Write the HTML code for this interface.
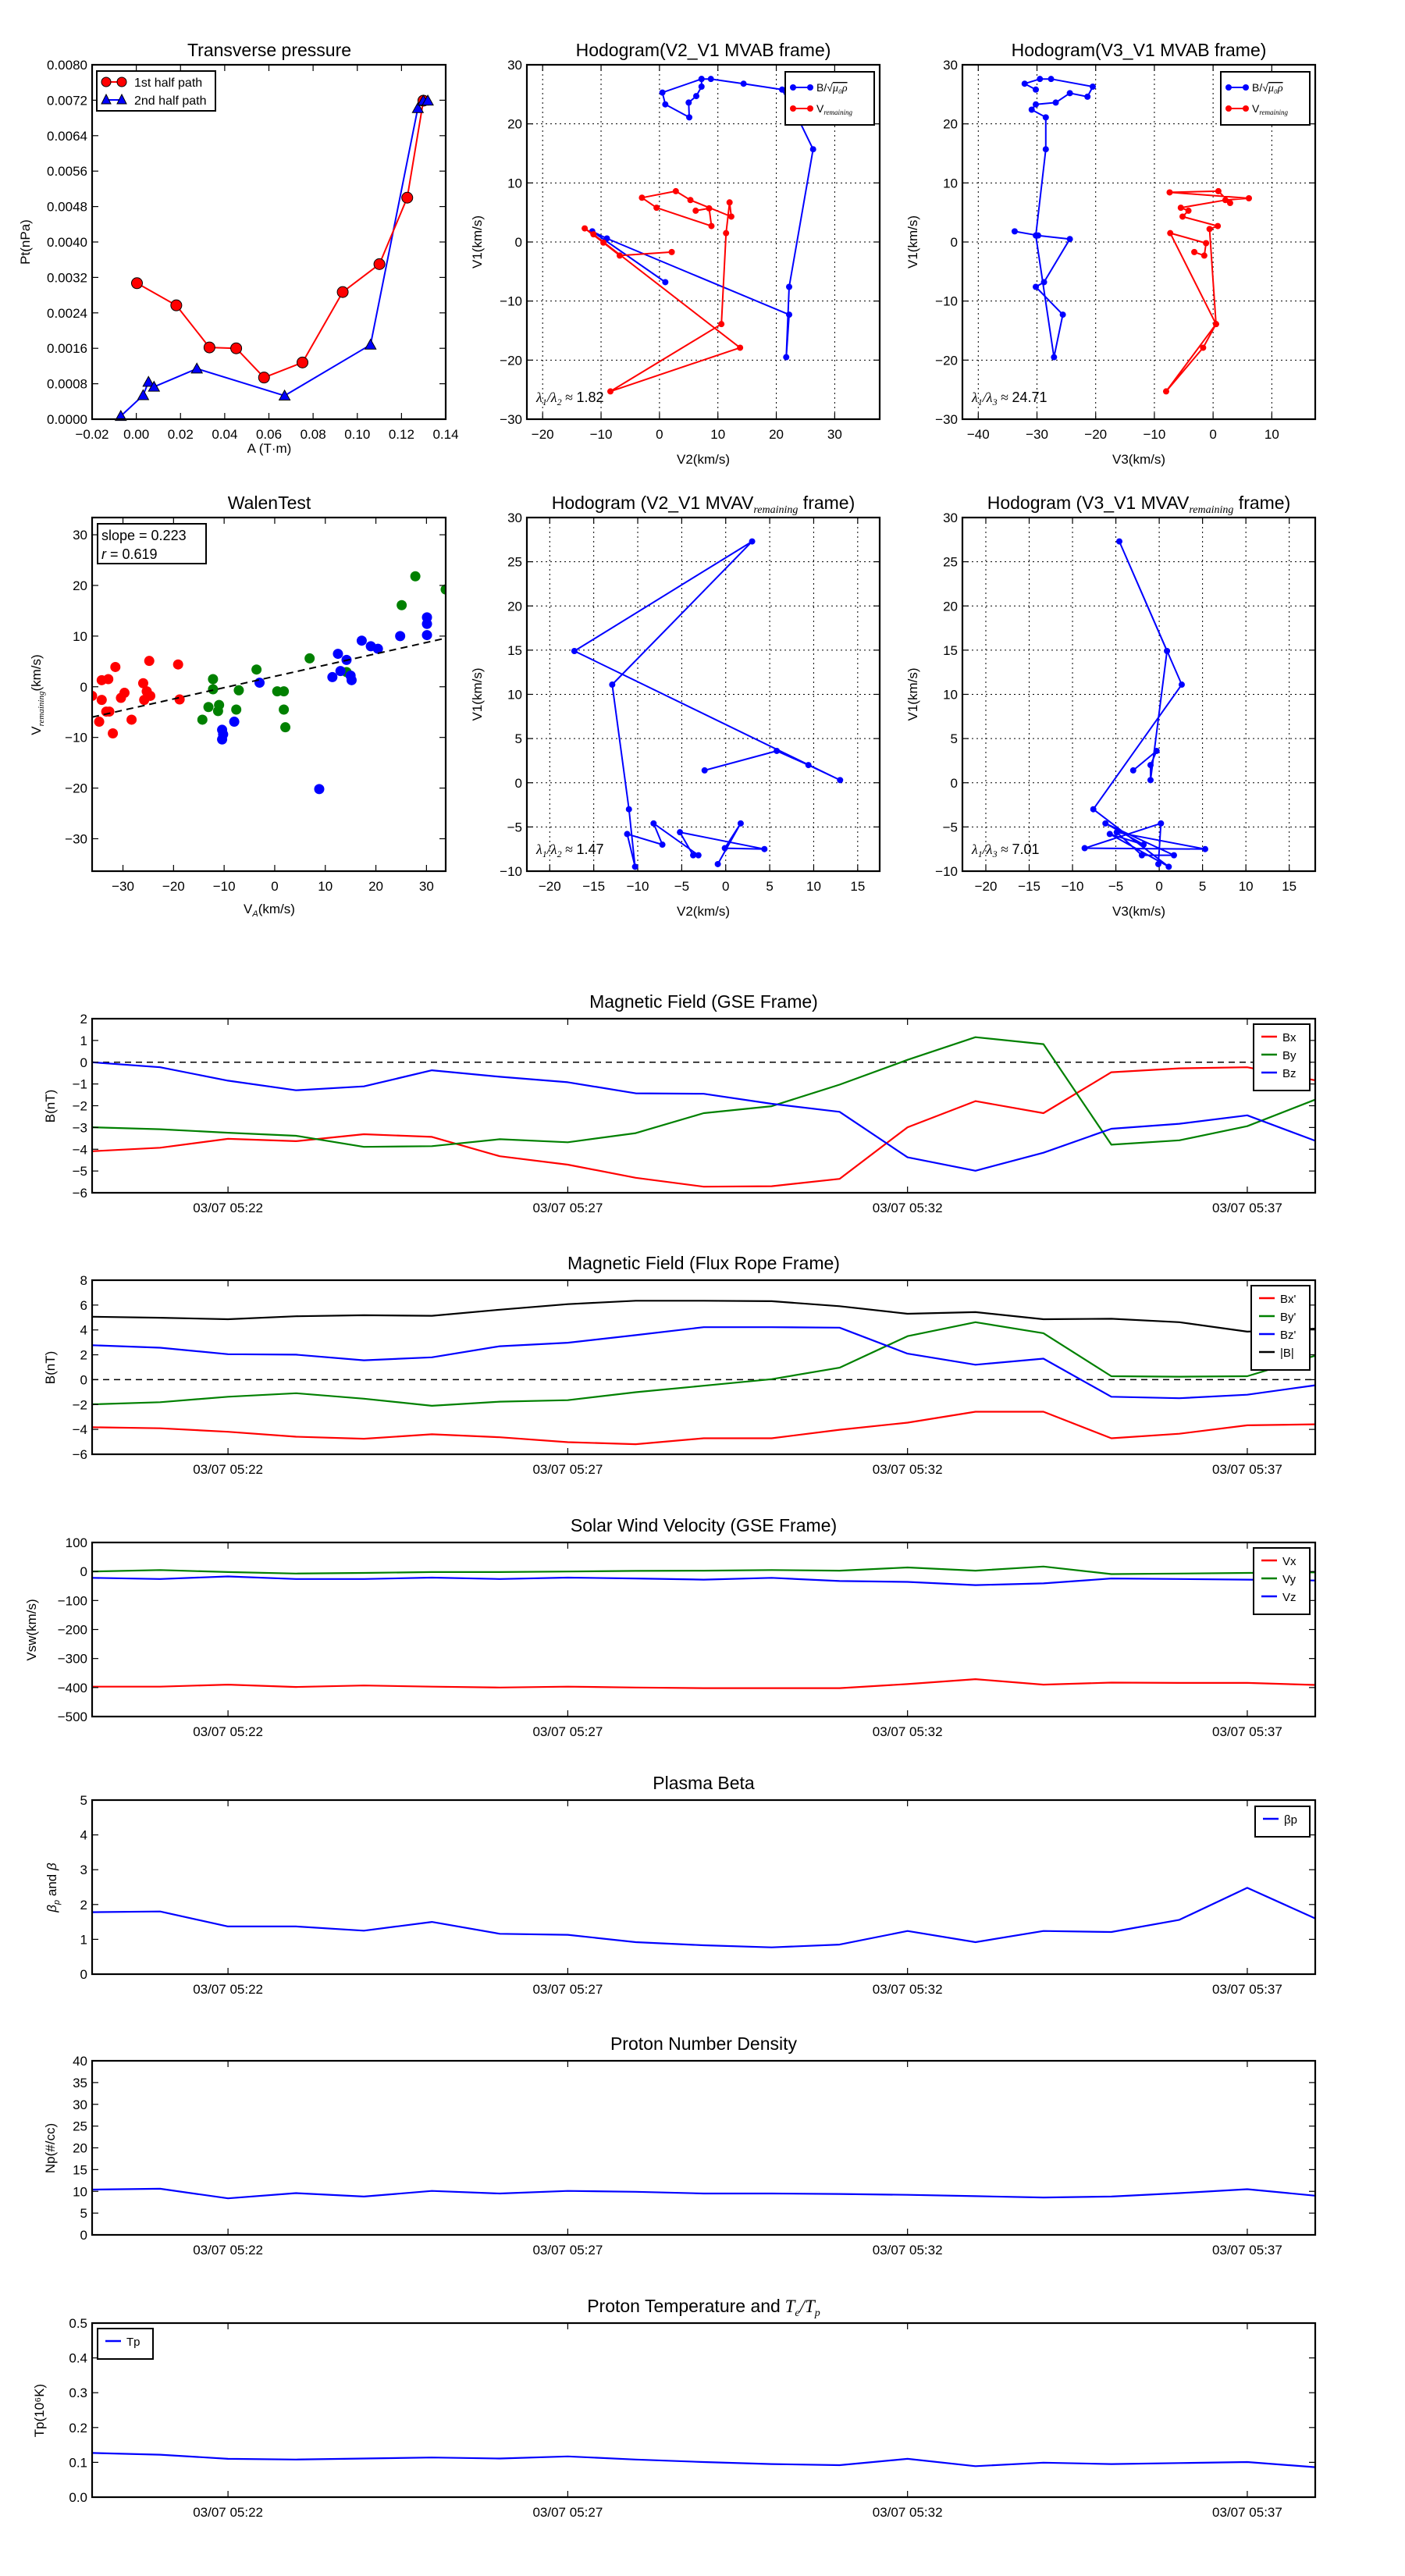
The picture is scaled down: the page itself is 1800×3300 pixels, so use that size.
<!DOCTYPE html>
<html><head><meta charset="utf-8">
<style>
html,body{margin:0;padding:0;background:#fff;}
svg{display:block;font-family:"Liberation Sans",sans-serif;}
</style></head>
<body>
<svg id="fig" width="1800" height="3300" viewBox="0 0 1800 3300" xmlns="http://www.w3.org/2000/svg"></svg>
<script>
// ---------- DATA ----------
const tpRedA=[0.0003,0.0181,0.0331,0.0452,0.0578,0.0752,0.0934,0.110,0.1226,0.1299];
const tpRedP=[0.00307,0.00257,0.00162,0.0016,0.00094,0.00128,0.00287,0.0035,0.0050,0.00719];
const tpBlueA=[-0.007,0.0031,0.0055,0.008,0.0274,0.0671,0.106,0.1274,0.1299,0.1319];
const tpBlueP=[0.00007,0.00054,0.00084,0.00073,0.00114,0.00053,0.00168,0.00702,0.00719,0.00719];
const tpXTicks=[-0.02,0.00,0.02,0.04,0.06,0.08,0.10,0.12,0.14];
const tpYTicks=[0.0000,0.0008,0.0016,0.0024,0.0032,0.0040,0.0048,0.0056,0.0064,0.0072,0.0080];
const h1BlueX=[1.0,-11.5,-9.0,22.2,21.7,22.2,26.3,23.7,21.0,14.4,8.8,7.2,7.2,6.3,5.0,5.1,1.0,0.5,7.2];
const h1BlueY=[-6.8,1.8,0.6,-12.3,-19.5,-7.6,15.7,21.0,25.8,26.8,27.6,27.6,26.3,24.7,23.6,21.1,23.3,25.3,27.6];
const h1RedX=[2.1,-6.8,-9.6,-12.8,-11.3,13.8,-8.4,10.6,11.4,12.0,12.3,5.3,2.8,-3.0,-0.5,8.9,8.5,6.2];
const h1RedY=[-1.7,-2.3,-0.1,2.3,1.3,-17.9,-25.3,-13.9,1.5,6.7,4.3,7.1,8.6,7.5,5.8,2.7,5.7,5.3];
const h2BlueX=[-33.8,-29.8,-24.4,-28.8,-30.2,-25.6,-27.1,-30.2,-28.5,-28.5,-30.9,-30.2,-26.8,-24.4,-21.4,-20.5,-27.6,-29.5,-32.1,-30.2];
const h2BlueY=[1.8,1.1,0.5,-6.8,-7.6,-12.3,-19.5,1.1,15.7,21.1,22.4,23.3,23.6,25.2,24.6,26.3,27.6,27.6,26.8,25.8];
const h2RedX=[-3.2,-1.5,-1.2,-7.3,0.5,-1.7,-8.0,0.5,-0.6,0.8,-5.2,-4.2,-5.5,2.1,6.1,-7.4,0.9,2.9];
const h2RedY=[-1.7,-2.3,-0.2,1.5,-13.9,-17.9,-25.3,-13.9,2.2,2.7,4.3,5.3,5.8,7.1,7.4,8.4,8.6,6.6];
const walRedX=[-36.1,-34.7,-34.2,-34.2,-33.3,-32.7,-32.9,-32.0,-31.5,-30.4,-29.7,-28.3,-26.0,-25.8,-25.3,-24.8,-24.6,-19.1,-18.8];
const walRedY=[-1.8,-6.9,-2.6,1.3,-4.9,-4.9,1.5,-9.2,3.9,-2.2,-1.2,-6.5,0.7,-2.6,-0.9,5.1,-1.8,4.4,-2.5];
const walGreenX=[-14.3,-13.1,-12.2,-12.2,-11.2,-11.0,-7.6,-7.1,-3.6,0.5,1.8,1.8,2.1,6.9,14.2,25.1,27.8,33.8];
const walGreenY=[-6.5,-4.0,1.5,-0.5,-4.8,-3.6,-4.5,-0.7,3.4,-0.9,-0.9,-4.5,-8.0,5.6,2.9,16.1,21.8,19.2];
const walBlueX=[-10.4,-10.4,-10.2,-8.0,-3.0,8.8,11.4,12.5,13.0,14.2,15.0,15.2,17.2,19.0,20.4,24.8,30.1,30.1,30.1];
const walBlueY=[-8.5,-10.4,-9.4,-6.9,0.8,-20.2,1.9,6.5,3.1,5.3,2.2,1.3,9.1,8.0,7.5,10.0,13.7,12.4,10.2];
const walSlope=[0.223];
const walIntercept=[2.05];
const h3X=[-2.4,5.8,9.4,13.0,-17.2,3.0,-12.9,-11.0,-10.3,-11.2,-7.2,-8.2,-3.1,-3.7,-5.2,4.4,-0.1,1.7,-0.9];
const h4X=[-3.0,-0.3,-1.0,-1.0,0.9,-4.6,2.6,-7.6,1.1,-5.7,-1.8,-6.2,1.7,-2.0,-4.9,5.3,-8.6,0.2,-0.1];
const h34Y=[1.4,3.6,2.0,0.3,14.9,27.3,11.1,-3.0,-9.5,-5.8,-7.0,-4.6,-8.2,-8.2,-5.6,-7.5,-7.4,-4.6,-9.2];
const tMin=[0,1,2,3,4,5,6,7,8,9,10,11,12,13,14,15,16,17,18];
const timeTickPos=[2,7,12,17];
const timeTickLabels=["03/07 05:22","03/07 05:27","03/07 05:32","03/07 05:37"];
const gseBx=[-4.09,-3.93,-3.52,-3.63,-3.31,-3.43,-4.32,-4.71,-5.31,-5.72,-5.70,-5.36,-2.99,-1.79,-2.34,-0.46,-0.28,-0.23,-0.83];
const gseBy=[-2.99,-3.08,-3.24,-3.38,-3.89,-3.86,-3.54,-3.68,-3.26,-2.34,-2.02,-1.03,0.11,1.15,0.83,-3.79,-3.59,-2.94,-1.72];
const gseBz=[0,-0.23,-0.85,-1.29,-1.11,-0.37,-0.67,-0.92,-1.43,-1.45,-1.91,-2.28,-4.37,-4.99,-4.16,-3.06,-2.83,-2.44,-3.61];
const frBx=[-3.83,-3.91,-4.19,-4.59,-4.75,-4.39,-4.63,-5.03,-5.19,-4.71,-4.71,-4.03,-3.46,-2.58,-2.58,-4.71,-4.35,-3.67,-3.59];
const frBy=[-1.98,-1.81,-1.37,-1.09,-1.53,-2.10,-1.77,-1.65,-1.01,-0.49,0.04,0.96,3.50,4.62,3.74,0.28,0.24,0.28,1.93];
const frBz=[2.77,2.57,2.05,2.01,1.56,1.80,2.69,2.97,3.58,4.22,4.22,4.18,2.09,1.20,1.69,-1.37,-1.49,-1.21,-0.45];
const frBt=[5.06,4.98,4.86,5.10,5.18,5.14,5.63,6.07,6.35,6.35,6.31,5.91,5.30,5.43,4.86,4.90,4.62,3.86,4.10];
const vswX=[-397,-397,-390,-398,-393,-397,-400,-397,-400,-402,-402,-402,-388,-371,-390,-383,-384,-384,-391];
const vswY=[0,5,-2,-7,-5,-2,-2,0,2,3,5,3,14,3,17,-9,-7,-5,-3];
const vswZ=[-22,-26,-17,-26,-26,-21,-26,-21,-24,-28,-22,-33,-36,-47,-41,-24,-26,-28,-31];
const betaP=[1.78,1.80,1.37,1.37,1.25,1.50,1.16,1.13,0.92,0.83,0.77,0.85,1.24,0.92,1.24,1.21,1.56,2.48,1.60];
const densNp=[10.4,10.6,8.4,9.6,8.8,10.1,9.5,10.1,9.9,9.5,9.5,9.4,9.2,8.9,8.6,8.8,9.6,10.5,9.0];
const tempTp=[0.127,0.122,0.110,0.108,0.111,0.114,0.111,0.117,0.108,0.101,0.095,0.092,0.110,0.089,0.099,0.095,0.098,0.101,0.086];

// ---------- HELPERS ----------
const NS='http://www.w3.org/2000/svg';
const svg=document.getElementById('fig');
const FS=17;
const RX=1685;
function mk(tag,attrs,name,parent){
  const el=document.createElementNS(NS,tag);
  for(const k in attrs) el.setAttribute(k,attrs[k]);
  
  
  (parent||svg).appendChild(el);
  return el;
}
function txt(x,y,s,size,anchor,name,rot,parent){
  const t=mk('text',{x:x,y:y,'font-size':size,'text-anchor':anchor||'middle',fill:'#000'},name,parent);
  if(rot) t.setAttribute('transform','rotate('+rot+' '+x+' '+y+')');
  t.textContent=s;
  return t;
}
function span(t,s,opts){
  const sp=document.createElementNS(NS,'tspan');
  sp.textContent=s;
  if(opts){for(const k in opts) sp.setAttribute(k,opts[k]);}
  t.appendChild(sp);
  return sp;
}
function fmt(v,d){const s=v.toFixed(d);return (v<0?'\u2212'+s.slice(1):s).replace('\u22120.00','0.00');}
function axes(box,xr,yr){
  const sx=v=>box.x0+(v-xr[0])/(xr[1]-xr[0])*(box.x1-box.x0);
  const sy=v=>box.y1-(v-yr[0])/(yr[1]-yr[0])*(box.y1-box.y0);
  return {sx,sy};
}
function frame(g,box,name){
  mk('rect',{x:box.x0,y:box.y0,width:box.x1-box.x0,height:box.y1-box.y0,fill:'none',stroke:'#000','stroke-width':2.2},name,g);
}
function xTicks(g,box,sx,vals,labels,grid){
  vals.forEach((v,i)=>{
    const x=sx(v);
    if(grid) mk('line',{x1:x,y1:box.y0,x2:x,y2:box.y1,stroke:'#000','stroke-width':1,'stroke-dasharray':'2,4'},'x-grid-line',g);
    mk('line',{x1:x,y1:box.y1,x2:x,y2:box.y1-8,stroke:'#000','stroke-width':1.2},'x-tick',g);
    mk('line',{x1:x,y1:box.y0,x2:x,y2:box.y0+8,stroke:'#000','stroke-width':1.2},'x-tick-top',g);
    txt(x,box.y1+25,labels[i],FS,'middle','x-tick-label',0,g);
  });
}
function yTicks(g,box,sy,vals,labels,grid){
  vals.forEach((v,i)=>{
    const y=sy(v);
    if(grid) mk('line',{x1:box.x0,y1:y,x2:box.x1,y2:y,stroke:'#000','stroke-width':1,'stroke-dasharray':'2,4'},'y-grid-line',g);
    mk('line',{x1:box.x0,y1:y,x2:box.x0+8,y2:y,stroke:'#000','stroke-width':1.2},'y-tick',g);
    mk('line',{x1:box.x1,y1:y,x2:box.x1-8,y2:y,stroke:'#000','stroke-width':1.2},'y-tick-right',g);
    txt(box.x0-6,y+6,labels[i],FS,'end','y-tick-label',0,g);
  });
}
function polyline(g,xs,ys,sx,sy,color,name,w){
  const pts=xs.map((x,i)=>sx(x).toFixed(1)+','+sy(ys[i]).toFixed(1)).join(' ');
  return mk('polyline',{points:pts,fill:'none',stroke:color,'stroke-width':w||2,'stroke-linejoin':'round'},name,g);
}
function dots(g,xs,ys,sx,sy,color,r,name,stroke){
  xs.forEach((x,i)=>{
    mk('circle',{cx:sx(x),cy:sy(ys[i]),r:r,fill:color,stroke:stroke||'none','stroke-width':1},name,g);
  });
}
function tris(g,xs,ys,sx,sy,color,r,name){
  xs.forEach((x,i)=>{
    const cx=sx(x),cy=sy(ys[i]);
    mk('polygon',{points:(cx)+','+(cy-r)+' '+(cx-r)+','+(cy+r*0.8)+' '+(cx+r)+','+(cy+r*0.8),fill:color,stroke:'#000','stroke-width':1},name,g);
  });
}
function group(name){return mk('g',{},name);}

// ---------- TRANSVERSE PRESSURE ----------
(function(){
  const g=group('transverse-pressure-chart');
  const box={x0:118,x1:571,y0:83,y1:537};
  const {sx,sy}=axes(box,[-0.02,0.14],[0,0.008]);
  txt(345,72,'Transverse pressure',23,'middle','chart-title',0,g);
  polyline(g,tpBlueA,tpBlueP,sx,sy,'#0000ff','series-2nd-half-line');
  polyline(g,tpRedA,tpRedP,sx,sy,'#ff0000','series-1st-half-line');
  dots(g,tpRedA,tpRedP,sx,sy,'#ff0000',7,'marker-1st-half','#000');
  tris(g,tpBlueA,tpBlueP,sx,sy,'#0000ff',7,'marker-2nd-half');
  frame(g,box,'plot-frame');
  xTicks(g,box,sx,tpXTicks,tpXTicks.map(v=>fmt(v,2)),false);
  yTicks(g,box,sy,tpYTicks,tpYTicks.map(v=>v.toFixed(4)),false);
  txt(345,580,'A (T\u00b7m)',FS,'middle','x-axis-title',0,g);
  txt(38,310,'Pt(nPa)',FS,'middle','y-axis-title',-90,g);
  const lg=mk('g',{},'legend',g);
  mk('rect',{x:124,y:91,width:152,height:51,fill:'#fff',stroke:'#000','stroke-width':2},'legend-frame',lg);
  mk('line',{x1:136,y1:105,x2:156,y2:105,stroke:'#ff0000','stroke-width':2},'legend-line-1st',lg);
  mk('circle',{cx:136,cy:105,r:6,fill:'#ff0000',stroke:'#000'},'legend-marker-1st',lg);
  mk('circle',{cx:156,cy:105,r:6,fill:'#ff0000',stroke:'#000'},'legend-marker-1st',lg);
  txt(172,111,'1st half path',16,'start','legend-label-1st',0,lg);
  mk('line',{x1:136,y1:128,x2:156,y2:128,stroke:'#0000ff','stroke-width':2},'legend-line-2nd',lg);
  mk('polygon',{points:'136,121 130,133 142,133',fill:'#0000ff',stroke:'#000'},'legend-marker-2nd',lg);
  mk('polygon',{points:'156,121 150,133 162,133',fill:'#0000ff',stroke:'#000'},'legend-marker-2nd',lg);
  txt(172,134,'2nd half path',16,'start','legend-label-2nd',0,lg);
})();

// ---------- HODOGRAM helper ----------
function hodo(opts){
  const g=group(opts.name);
  const box=opts.box;
  const {sx,sy}=axes(box,opts.xr,opts.yr);
  const title=txt((box.x0+box.x1)/2,box.y0-11,opts.title,23,'middle','chart-title',0,g);
  if(opts.titleSub){
    span(title,opts.titleSub,{'font-size':14,'font-style':'italic','dy':5,'font-family':'Liberation Serif'});
    span(title,' frame)',{'dy':-5});
  }
  xTicks(g,box,sx,opts.xt,opts.xt.map(v=>v<0?'\u2212'+(-v):''+v),true);
  yTicks(g,box,sy,opts.yt,opts.yt.map(v=>v<0?'\u2212'+(-v):''+v),true);
  opts.series.forEach(s=>{
    polyline(g,s.x,s.y,sx,sy,s.c,s.n+'-line');
    dots(g,s.x,s.y,sx,sy,s.c,4,s.n+'-point');
  });
  frame(g,box,'plot-frame');
  txt((box.x0+box.x1)/2,box.y1+57,opts.xl,FS,'middle','x-axis-title',0,g);
  txt(box.x0-58,(box.y0+box.y1)/2,'V1(km/s)',FS,'middle','y-axis-title',-90,g);
  const lt=txt(box.x0+12,box.y1-22,'\u03bb',18,'start','eigenvalue-ratio-label',0,g);
  lt.setAttribute('font-family','Liberation Serif');
  lt.setAttribute('font-style','italic');
  span(lt,'1',{'font-size':12,'dy':4});
  span(lt,'/\u03bb',{'dy':-4});
  span(lt,opts.lamIdx,{'font-size':12,'dy':4});
  span(lt,' \u2248 ',{'dy':-4,'font-style':'normal'});
  span(lt,opts.lam,{'font-family':'Liberation Sans','font-style':'normal'});
  if(opts.legend){
    const lg=mk('g',{},'legend',g);
    const lx=box.x1-121, ly=box.y0+9;
    mk('rect',{x:lx,y:ly,width:114,height:68,fill:'#fff',stroke:'#000','stroke-width':2},'legend-frame',lg);
    mk('line',{x1:lx+10,y1:ly+20,x2:lx+32,y2:ly+20,stroke:'#0000ff','stroke-width':2},'legend-line-b',lg);
    mk('circle',{cx:lx+10,cy:ly+20,r:4,fill:'#0000ff'},'legend-marker-b',lg);
    mk('circle',{cx:lx+32,cy:ly+20,r:4,fill:'#0000ff'},'legend-marker-b',lg);
    const t1=txt(lx+40,ly+25,'B/\u221a',14,'start','legend-label-b',0,lg);
    span(t1,'\u03bc\u2080\u03c1',{'font-style':'italic','font-family':'Liberation Serif','text-decoration':'overline'});
    mk('line',{x1:lx+10,y1:ly+47,x2:lx+32,y2:ly+47,stroke:'#ff0000','stroke-width':2},'legend-line-v',lg);
    mk('circle',{cx:lx+10,cy:ly+47,r:4,fill:'#ff0000'},'legend-marker-v',lg);
    mk('circle',{cx:lx+32,cy:ly+47,r:4,fill:'#ff0000'},'legend-marker-v',lg);
    const t2=txt(lx+40,ly+52,'V',14,'start','legend-label-v',0,lg);
    span(t2,'remaining',{'font-size':9,'font-style':'italic','font-family':'Liberation Serif','dy':3});
  }
}
hodo({name:'hodogram-v2-v1-mvab',box:{x0:675,x1:1127,y0:83,y1:537},xr:[-22.7,37.7],yr:[-30,30],
  title:'Hodogram(V2_V1 MVAB frame)',xt:[-20,-10,0,10,20,30],yt:[-30,-20,-10,0,10,20,30],xl:'V2(km/s)',lam:'1.82',lamIdx:'2',legend:true,
  series:[{x:h1BlueX,y:h1BlueY,c:'#0000ff',n:'b-field'},{x:h1RedX,y:h1RedY,c:'#ff0000',n:'v-remaining'}]});
hodo({name:'hodogram-v3-v1-mvab',box:{x0:1233,x1:RX,y0:83,y1:537},xr:[-42.7,17.4],yr:[-30,30],
  title:'Hodogram(V3_V1 MVAB frame)',xt:[-40,-30,-20,-10,0,10],yt:[-30,-20,-10,0,10,20,30],xl:'V3(km/s)',lam:'24.71',lamIdx:'3',legend:true,
  series:[{x:h2BlueX,y:h2BlueY,c:'#0000ff',n:'b-field'},{x:h2RedX,y:h2RedY,c:'#ff0000',n:'v-remaining'}]});
hodo({name:'hodogram-v2-v1-mvav',box:{x0:675,x1:1127,y0:663,y1:1116},xr:[-22.6,17.5],yr:[-10,30],
  title:'Hodogram (V2_V1 MVAV',titleSub:'remaining',xt:[-20,-15,-10,-5,0,5,10,15],yt:[-10,-5,0,5,10,15,20,25,30],xl:'V2(km/s)',lam:'1.47',lamIdx:'2',legend:false,
  series:[{x:h3X,y:h34Y,c:'#0000ff',n:'v-path'}]});
hodo({name:'hodogram-v3-v1-mvav',box:{x0:1233,x1:RX,y0:663,y1:1116},xr:[-22.7,18.0],yr:[-10,30],
  title:'Hodogram (V3_V1 MVAV',titleSub:'remaining',xt:[-20,-15,-10,-5,0,5,10,15],yt:[-10,-5,0,5,10,15,20,25,30],xl:'V3(km/s)',lam:'7.01',lamIdx:'3',legend:false,
  series:[{x:h4X,y:h34Y,c:'#0000ff',n:'v-path'}]});

// ---------- WALEN TEST ----------
(function(){
  const g=group('walen-test-chart');
  const box={x0:118,x1:571,y0:663,y1:1116};
  const {sx,sy}=axes(box,[-36.1,33.8],[-36.4,33.4]);
  txt(345,652,'WalenTest',23,'middle','chart-title',0,g);
  const clip=mk('clipPath',{id:'walclip'},'walen-clip',g);
  mk('rect',{x:box.x0,y:box.y0,width:box.x1-box.x0,height:box.y1-box.y0},'walen-clip-rect',clip);
  const pg=mk('g',{'clip-path':'url(#walclip)'},'walen-points',g);
  dots(pg,walRedX,walRedY,sx,sy,'#ff0000',6.5,'point-red');
  dots(pg,walGreenX,walGreenY,sx,sy,'#008000',6.5,'point-green');
  dots(pg,walBlueX,walBlueY,sx,sy,'#0000ff',6.5,'point-blue');
  const xa=-36.1, xb=33.8;
  mk('line',{x1:sx(xa),y1:sy(walSlope[0]*xa+walIntercept[0]),x2:sx(xb),y2:sy(walSlope[0]*xb+walIntercept[0]),stroke:'#000','stroke-width':2,'stroke-dasharray':'9,6'},'fit-line',pg);
  frame(g,box,'plot-frame');
  const xt=[-30,-20,-10,0,10,20,30], yt=[-30,-20,-10,0,10,20,30];
  xTicks(g,box,sx,xt,xt.map(v=>v<0?'\u2212'+(-v):''+v),false);
  yTicks(g,box,sy,yt,yt.map(v=>v<0?'\u2212'+(-v):''+v),false);
  const xl=txt(345,1170,'V',FS,'middle','x-axis-title',0,g);
  span(xl,'A',{'font-size':11,'font-style':'italic','dy':4});
  span(xl,'(km/s)',{'dy':-4});
  const yl=txt(52,890,'V',FS,'middle','y-axis-title',-90,g);
  span(yl,'remaining',{'font-size':11,'font-style':'italic','font-family':'Liberation Serif','dy':4});
  span(yl,'(km/s)',{'dy':-4});
  mk('rect',{x:125,y:671,width:139,height:51,fill:'#fff',stroke:'#000','stroke-width':2},'stats-box',g);
  txt(130,692,'slope = 0.223',18,'start','slope-label',0,g);
  const rt=txt(130,716,'r',18,'start','r-label',0,g);
  rt.setAttribute('font-style','italic');
  span(rt,' = 0.619',{'font-style':'normal'});
})();

// ---------- TIME SERIES ----------
function ts(opts){
  const g=group(opts.name);
  const box={x0:118,x1:RX,y0:opts.y0,y1:opts.y0+223};
  const {sx,sy}=axes(box,[0,18],opts.yr);
  const t=txt((box.x0+box.x1)/2,box.y0-14,opts.title,23,'middle','chart-title',0,g);
  if(opts.titleMath){
    span(t,' T',{'font-style':'italic','font-family':'Liberation Serif'});
    span(t,'e',{'font-size':14,'font-style':'italic','font-family':'Liberation Serif','dy':5});
    span(t,'/T',{'font-style':'italic','font-family':'Liberation Serif','dy':-5});
    span(t,'p',{'font-size':14,'font-style':'italic','font-family':'Liberation Serif','dy':5});
  }
  if(opts.zero) mk('line',{x1:box.x0,y1:sy(0),x2:box.x1,y2:sy(0),stroke:'#000','stroke-width':1.5,'stroke-dasharray':'8,6'},'zero-line',g);
  opts.series.forEach(s=>polyline(g,tMin,s.v,sx,sy,s.c,s.n,2.2));
  frame(g,box,'plot-frame');
  xTicks(g,box,sx,timeTickPos,timeTickLabels,false);
  yTicks(g,box,sy,opts.yt,opts.yt.map(v=>v<0?'\u2212'+(-v):(opts.dec!=null?v.toFixed(opts.dec):''+v)),false);
  txt(opts.ylx||70,box.y0+112,opts.ylabel,FS,'middle','y-axis-title',-90,g);
  if(opts.legend){
    const L=opts.legend;
    const lg=mk('g',{},'legend',g);
    const lx=L.x<0?box.x1+L.x:L.x;
    mk('rect',{x:lx,y:box.y0+L.dy,width:L.w,height:opts.series.length*23+16,fill:'#fff',stroke:'#000','stroke-width':2},'legend-frame',lg);
    opts.series.forEach((s,i)=>{
      const yy=box.y0+L.dy+16+i*23;
      mk('line',{x1:lx+10,y1:yy,x2:lx+30,y2:yy,stroke:s.c,'stroke-width':2.5},'legend-line-'+s.n,lg);
      txt(lx+37,yy+6,s.label,15,'start','legend-label-'+s.n,0,lg);
    });
  }
  return g;
}
ts({name:'magnetic-field-gse-chart',y0:1305,yr:[-6,2],yt:[-6,-5,-4,-3,-2,-1,0,1,2],title:'Magnetic Field (GSE Frame)',ylabel:'B(nT)',zero:true,
  series:[{v:gseBx,c:'#ff0000',n:'bx',label:'Bx'},{v:gseBy,c:'#008000',n:'by',label:'By'},{v:gseBz,c:'#0000ff',n:'bz',label:'Bz'}],legend:{x:-79,dy:7,w:72}});
ts({name:'magnetic-field-flux-rope-chart',y0:1640,yr:[-6,8],yt:[-6,-4,-2,0,2,4,6,8],title:'Magnetic Field (Flux Rope Frame)',ylabel:'B(nT)',zero:true,
  series:[{v:frBx,c:'#ff0000',n:'bx-prime',label:"Bx'"},{v:frBy,c:'#008000',n:'by-prime',label:"By'"},{v:frBz,c:'#0000ff',n:'bz-prime',label:"Bz'"},{v:frBt,c:'#000000',n:'b-total',label:'|B|'}],legend:{x:-82,dy:7,w:75}});
ts({name:'solar-wind-velocity-chart',y0:1976,yr:[-500,100],yt:[-500,-400,-300,-200,-100,0,100],title:'Solar Wind Velocity (GSE Frame)',ylabel:'Vsw(km/s)',ylx:46,
  series:[{v:vswX,c:'#ff0000',n:'vx',label:'Vx'},{v:vswY,c:'#008000',n:'vy',label:'Vy'},{v:vswZ,c:'#0000ff',n:'vz',label:'Vz'}],legend:{x:-79,dy:7,w:72}});
(function(){
  const g=ts({name:'plasma-beta-chart',y0:2306,yr:[0,5],yt:[0,1,2,3,4,5],title:'Plasma Beta',ylabel:'',
    series:[{v:betaP,c:'#0000ff',n:'beta-p',label:'\u03b2p'}],legend:{x:-77,dy:8,w:70}});
  const yl=txt(72,2418,'\u03b2',FS,'middle','y-axis-title',-90,g);
  yl.setAttribute('font-style','italic');
  span(yl,'p',{'font-size':11,'dy':4});
  span(yl,' and ',{'dy':-4,'font-style':'normal'});
  span(yl,'\u03b2',{});
})();
ts({name:'proton-density-chart',y0:2640,yr:[0,40],yt:[0,5,10,15,20,25,30,35,40],title:'Proton Number Density',ylabel:'Np(#/cc)',
  series:[{v:densNp,c:'#0000ff',n:'np'}]});
ts({name:'proton-temperature-chart',y0:2976,yr:[0,0.5],yt:[0,0.1,0.2,0.3,0.4,0.5],dec:1,title:'Proton Temperature and',titleMath:true,ylabel:'Tp(10\u2076K)',ylx:56,
  series:[{v:tempTp,c:'#0000ff',n:'tp',label:'Tp'}],legend:{x:125,dy:7,w:71}});
</script>
</body></html>
